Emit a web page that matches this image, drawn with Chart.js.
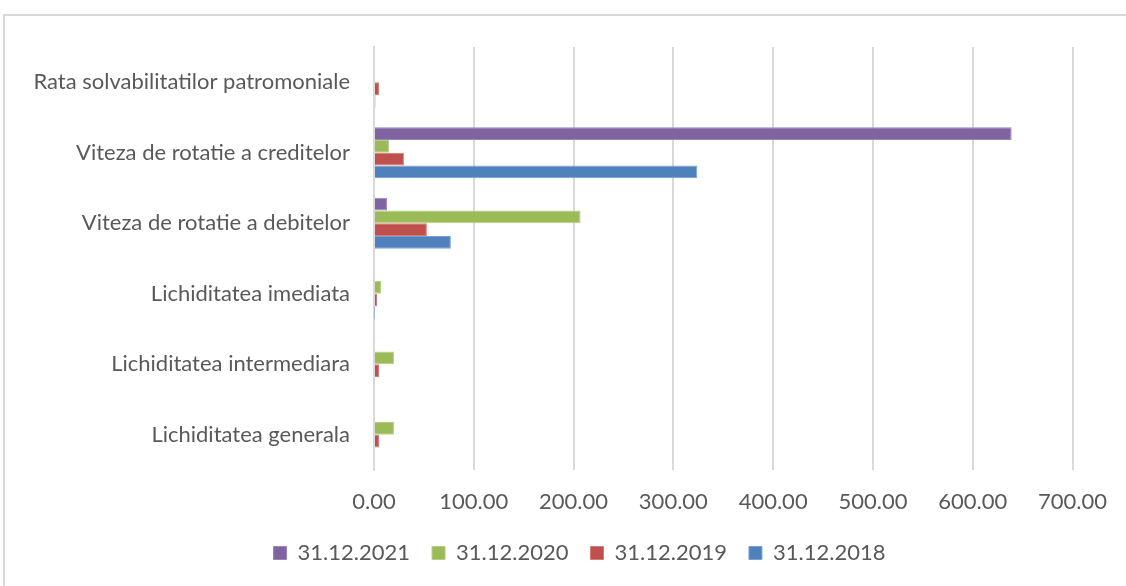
<!DOCTYPE html>
<html>
<head>
<meta charset="utf-8">
<script src="https://cdn.jsdelivr.net/npm/chart.js@4"></script>
<style>
  html, body { margin: 0; padding: 0; background: #fff; }
  #wrap { position: relative; width: 1126px; height: 586px; }
  #frame { position: absolute; left: 3px; top: 14px; width: 1200px; height: 700px;
           border-left: 2px solid #d9d9d9; border-top: 2px solid #d9d9d9; }
  canvas { position: absolute; left: 0; top: 0; }
</style>
</head>
<body>
<div id="wrap">
  <div id="frame"></div>
  <canvas id="chart" width="1126" height="586"></canvas>
</div>
<script>
// categories, top to bottom as drawn
const categories = [
  'Rata solvabilitatilor patromoniale',
  'Viteza de rotatie a creditelor',
  'Viteza de rotatie a debitelor',
  'Lichiditatea imediata',
  'Lichiditatea intermediara',
  'Lichiditatea generala'
];

const v2021 = [0, 639, 13, 0, 0, 0];
const v2020 = [0, 15, 207, 7, 20, 20];
const v2019 = [5, 30, 53, 3, 5, 5];
const v2018 = [1.5, 324, 77, 0.3, 1, 1];

const seriesLabels = ['31.12.2021', '31.12.2020', '31.12.2019', '31.12.2018'];
const xTicks = [0, 100, 200, 300, 400, 500, 600, 700];

const txt = '#595959';
const font = "Lato, 'Liberation Sans', sans-serif";

function ds(label, data, fill, edge){
  return { label, data, backgroundColor: fill, borderColor: edge, borderWidth: 1,
           categoryPercentage: 0.72, barPercentage: 1.0 };
}

// Excel centres the legend a bit right of the canvas centre
const shiftLegend = {
  id: 'shiftLegend',
  afterLayout(chart){
    const lg = chart.legend;
    if (!lg) return;
    lg.left += 42;
    lg.right += 42;
  }
};

new Chart(document.getElementById('chart'), {
  type: 'bar',
  data: {
    labels: categories,
    datasets: [
      ds(seriesLabels[0], v2021, '#8064A2', '#9a84b8'),
      ds(seriesLabels[1], v2020, '#9BBB59', '#b5d07f'),
      ds(seriesLabels[2], v2019, '#C0504D', '#d47a78'),
      ds(seriesLabels[3], v2018, '#4F81BD', '#7aa0d0')
    ]
  },
  plugins: [shiftLegend],
  options: {
    indexAxis: 'y',
    responsive: false,
    animation: false,
    layout: { padding: { left: 0, right: 51, top: 47, bottom: 12 } },
    scales: {
      x: {
        min: 0, max: 700,
        afterBuildTicks: s => { s.ticks = xTicks.map(v => ({ value: v })); },
        ticks: { color: txt, font: { family: font, size: 22 }, padding: 19,
                 callback: v => Number(v).toFixed(2) },
        grid: { color: '#d9d9d9', lineWidth: 2, drawTicks: false },
        border: { display: false },
        afterFit: s => { s.height = 50; }
      },
      y: {
        ticks: { color: txt, font: { family: font, size: 22 }, padding: 24 },
        grid: { display: false, drawTicks: false },
        border: { color: '#d9d9d9', width: 2 },
        afterFit: s => { s.width = 374; }
      }
    },
    plugins: {
      legend: {
        position: 'bottom',
        labels: { color: txt, font: { family: font, size: 22 },
                  boxWidth: 13, boxHeight: 13, padding: 22, useBorderRadius: false }
      },
      tooltip: { enabled: false }
    }
  }
});
</script>
</body>
</html>
